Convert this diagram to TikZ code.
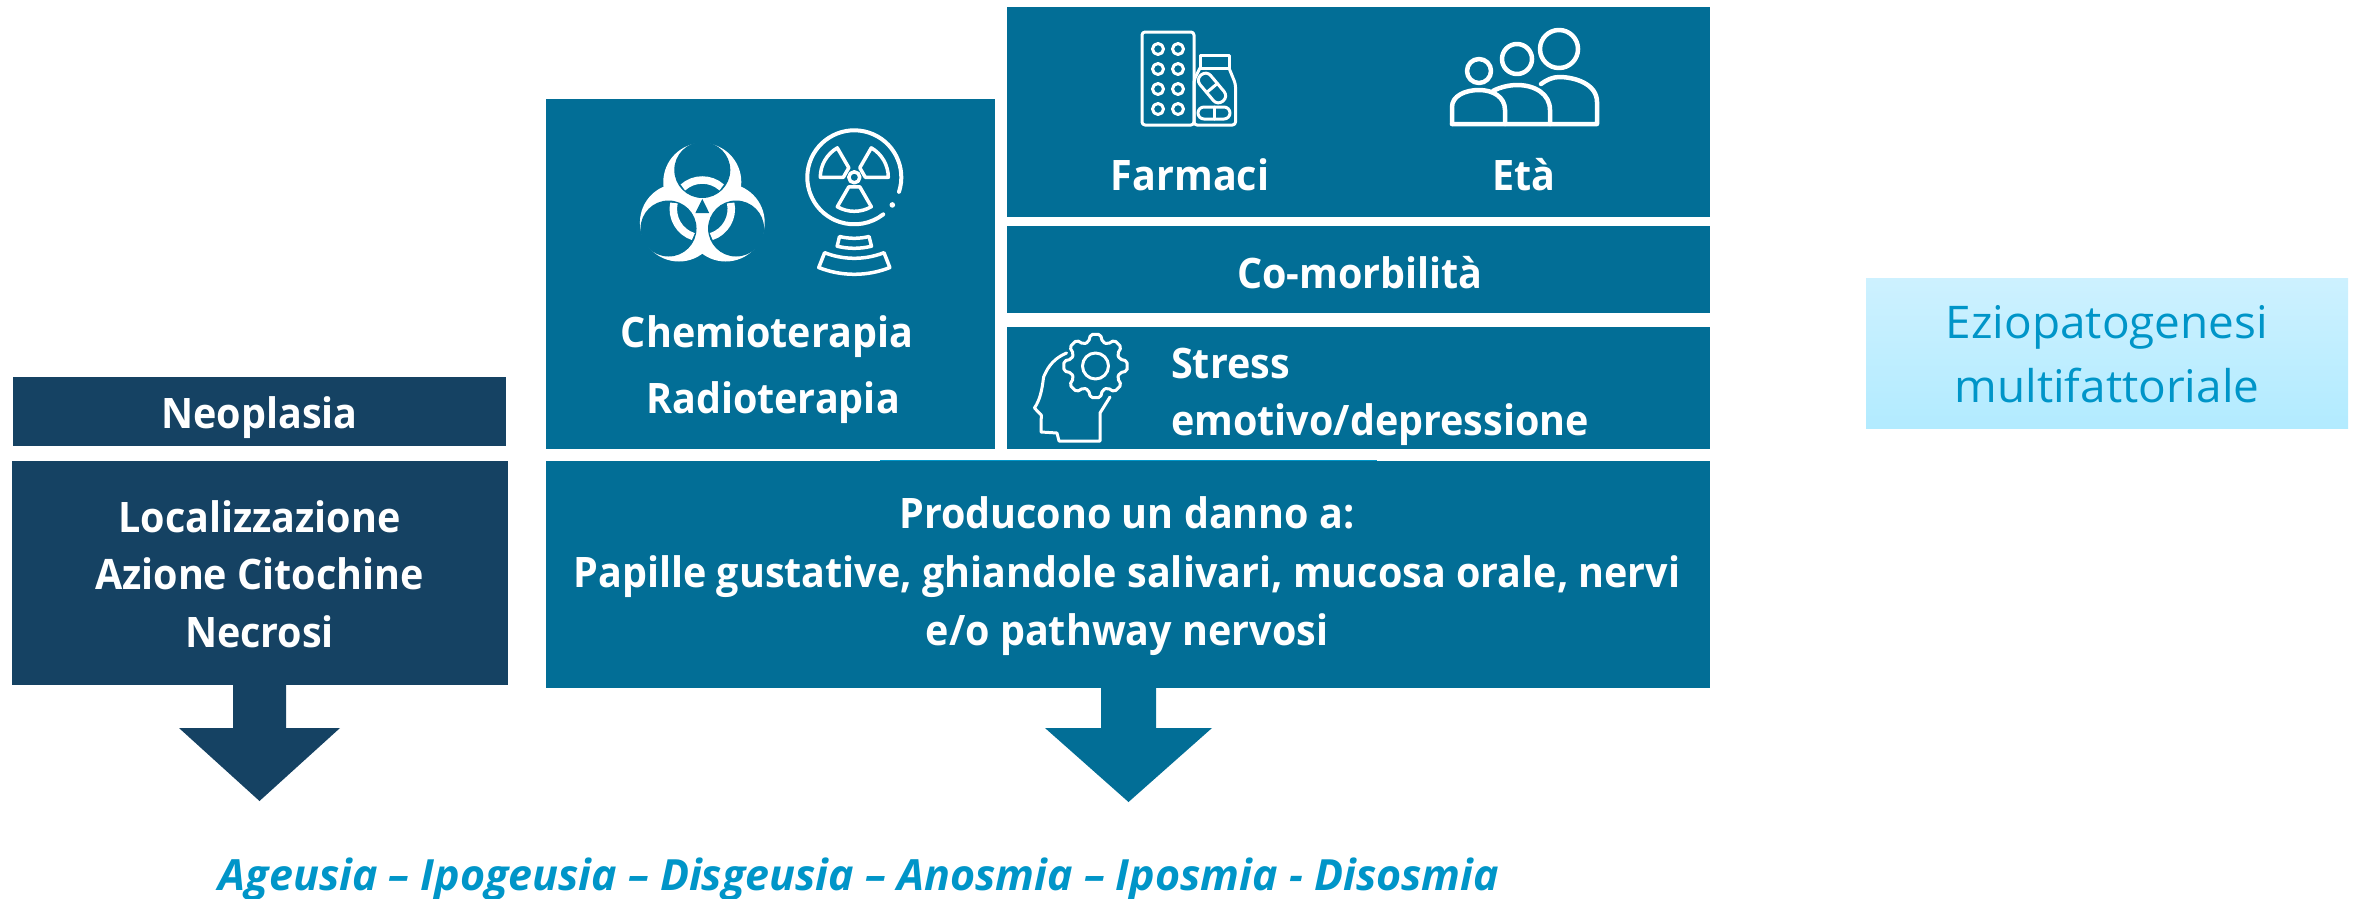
\documentclass[tikz,border=0pt]{standalone}
\usepackage{fontspec}
\setmainfont{Open Sans}
\newfontfamily\boldface{Open Sans Bold}[FakeStretch=0.94]
\newfontfamily\regface{Open Sans}[FakeStretch=1.02]
\usetikzlibrary{calc}
\definecolor{teal1}{HTML}{026E96}
\definecolor{navy1}{HTML}{154263}
\definecolor{sky1}{HTML}{0095C8}
\definecolor{iceA}{HTML}{CDF1FF}
\definecolor{iceB}{HTML}{B2EBFF}
\tikzset{
  tealbox/.style={fill=teal1,draw=none,inner sep=0pt},
  navybox/.style={fill=navy1,draw=none,inner sep=0pt},
  wtext/.style={text=white,font=\fontsize{42}{42}\selectfont\boldface,anchor=base,inner sep=0pt},
  wleft/.style={wtext,anchor=base west},
  icon/.style={draw=white,line width=3pt,line join=round,line cap=round,fill=none},
}
\begin{document}
\begin{tikzpicture}[x=1pt,y=1pt]
\useasboundingbox (0,0) rectangle (2354,-898);
% boxes
\node[navybox,minimum width=493pt,minimum height=69pt,anchor=north west] (neo) at (13,-377) {};
\node[navybox,minimum width=496.5pt,minimum height=224pt,anchor=north west] (loc) at (11.5,-461) {};
\node[tealbox,minimum width=449pt,minimum height=350pt,anchor=north west] (chemo) at (546,-99) {};
\node[tealbox,minimum width=703pt,minimum height=210pt,anchor=north west] (farm) at (1007,-7) {};
\node[tealbox,minimum width=703pt,minimum height=87pt,anchor=north west] (como) at (1007,-226) {};
\node[tealbox,minimum width=703pt,minimum height=122pt,anchor=north west] (stress) at (1007,-327) {};
\node[tealbox,minimum width=1164pt,minimum height=227pt,anchor=north west] (prod) at (546,-461) {};
\draw[sky1,line width=1pt] (880,-460.5) -- (1377,-460.5);
\node[inner sep=0pt,minimum width=482pt,minimum height=150pt,anchor=north west,top color=iceA,bottom color=iceB] (ezio) at (1866,-278) {};
% arrows
\fill[navy1] (233,-685) -- (286,-685) -- (286,-728) -- (340,-728) -- (259.5,-801) -- (179,-728) -- (233,-728) -- cycle;
\fill[teal1] (1101,-688) -- (1156,-688) -- (1156,-728) -- (1212,-728) -- (1128.5,-802) -- (1045,-728) -- (1101,-728) -- cycle;
% texts
\node[wtext] (tneo) at (259.5,-428) {Neoplasia};
\node[wtext] (tloc) at (259.5,-532) {Localizzazione};
\node[wtext] (tazi) at (259.5,-589) {Azione Citochine};
\node[wtext] (tnec) at (259.5,-647) {Necrosi};
\node[wtext] (tche) at (767,-347) {Chemioterapia};
\node[wtext] (trad) at (773,-413) {Radioterapia};
\node[wtext] (tfar) at (1190,-190) {Farmaci};
\node[wtext] (teta) at (1524,-190) {Età};
\node[wtext] (tcom) at (1360,-288) {Co-morbilità};
\node[wleft] (tstr) at (1171,-378) {Stress};
\node[wleft] (temo) at (1171,-435) {emotivo/depressione};
\node[wtext] (tpro) at (1127,-528) {Producono un danno a:};
\node[wtext] (tpap) at (1127,-587) {Papille gustative, ghiandole salivari, mucosa orale, nervi};
\node[wtext] (teo) at (1127,-645) {e/o pathway nervosi};
\node[text=sky1,font=\fontsize{43}{43}\selectfont\bfseries\itshape,anchor=base,inner sep=0pt] (tsym) at (859,-890) {Ageusia – Ipogeusia – Disgeusia – Anosmia – Iposmia - Disosmia};
\node[text=sky1,font=\fontsize{45}{45}\selectfont\regface,anchor=base,inner sep=0pt] (tez1) at (2107,-338) {Eziopatogenesi};
\node[text=sky1,font=\fontsize{45}{45}\selectfont\regface,anchor=base,inner sep=0pt] (tez2) at (2107,-402) {multifattoriale};
% biohazard
\begin{scope}[shift={(702.3,-209)}]
  \foreach \a in {90,210,330} \fill[white] (\a:27) circle (39);
  \foreach \a in {90,210,330} \fill[teal1] (\a:39) circle (28);
  \foreach \a in {90,210,330} \draw[white,line width=7.5pt] (\a-42:29) arc (\a-42:\a+42:29);
  \fill[teal1] (90:10) -- (210:8) -- (330:8) -- cycle;
\end{scope}
% radiation
\begin{scope}[shift={(854.3,-177.3)}]
  \draw[icon,line width=4pt] (-18:47) arc (-18:308:47);
  \fill[white] (-36:47) circle (2.8);
  \foreach \a in {120,0,240}
    \draw[icon,line width=3.5pt] (\a:34) arc (\a:\a+60:34) -- (\a+60:11) -- (\a:11) -- cycle;
  \draw[icon,line width=3.5pt] (0,0) circle (5.5);
  \draw[icon,line width=3.5pt] (256:61) arc (256:284:61) -- (284:71) arc (284:256:71) -- cycle;
  \draw[icon,line width=3.5pt] (248.5:81) arc (248.5:291.5:81) -- (291.5:97) arc (291.5:248.5:97) -- cycle;
\end{scope}
% pills
\begin{scope}[y=-1pt]
  \draw[icon,rounded corners=3pt] (1142,32) rectangle (1194,125);
  \foreach \hx in {1158,1178} \foreach \hy in {49,69,89,109}
    \draw[icon] (\hx,\hy) ellipse (5.5 and 5.5);
  \draw[icon] (1200,55) rectangle (1229,68);
  \draw[icon,rounded corners=3pt] (1200,68) -- (1194,80) -- (1194,125) -- (1235.5,125) -- (1235.5,84) -- (1229,68);
  \draw[icon,rounded corners=6pt] (1198,107) rectangle (1230,119);
  \draw[icon] (1214,107) -- (1214,119);
  \begin{scope}[shift={(1212,88)},rotate=-50]
    \draw[icon,rounded corners=6.5pt] (-17,-7) rectangle (17,7);
    \draw[icon] (0,-7) -- (0,7);
  \end{scope}
  % people
  \draw[icon,line width=4.5pt] (1479,71) circle (12);
  \draw[icon,line width=4.5pt] (1517,59) circle (15);
  \draw[icon,line width=4.5pt] (1559,49) circle (19);
  \draw[icon,line width=4.5pt] (1452,124) -- (1597,124) -- (1597,102) .. controls (1597,84) and (1575,77) .. (1559,77) .. controls (1553,77) and (1546,80) .. (1541,84);
  \draw[icon,line width=4.5pt] (1452,124) -- (1452,107) .. controls (1452,96) and (1465,90) .. (1479,90) .. controls (1493,90) and (1505,97) .. (1505,110) -- (1505,124);
  \draw[icon,line width=4.5pt] (1493,91) .. controls (1500,87) and (1510,85) .. (1517,85) .. controls (1535,85) and (1550,94) .. (1550,110) -- (1550,124);
  % head
  \draw[icon,line width=3pt] (1066.6,353) .. controls (1050,360) and (1046,372) .. (1043.6,377) .. controls (1042,390) and (1040,400) .. (1034.4,408) -- (1041.3,415) -- (1041,432) -- (1057,433) -- (1059,441) -- (1100,441) -- (1100,413) -- (1110,397);
\end{scope}
\begin{scope}[shift={(1095.5,-366)}]
  \draw[icon,rounded corners=2pt] (-9:32) \foreach \g in {0,45,...,315} { -- (\g-9:32) -- (\g+9:32) -- (\g+16:25) -- (\g+29:25) } -- cycle;
  \draw[icon] (0,0) circle (13);
\end{scope}
\end{tikzpicture}
\end{document}
